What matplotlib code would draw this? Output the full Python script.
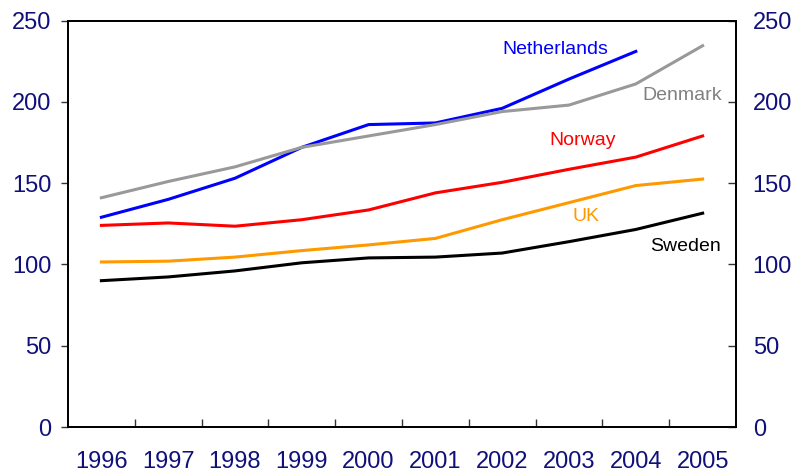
import matplotlib
matplotlib.use("Agg")
import matplotlib.pyplot as plt
import numpy as np

plt.rcParams['font.family'] = ['Liberation Sans', 'DejaVu Sans']

years = ['1996', '1997', '1998', '1999', '2000', '2001', '2002', '2003', '2004', '2005']
netherlands = [129, 140, 153, 172, 186, 187, 196, 214, 231]
denmark = [141, 151, 160, 172, 179, 186, 194, 198, 211, 234.5]
norway = [124, 125.5, 123.5, 127.5, 133.5, 144, 150.5, 158.5, 166, 179]
uk = [101.5, 102, 104.5, 108.5, 112, 116, 127.5, 138, 148.5, 152.5]
sweden = [90, 92.3, 96, 101, 104, 104.5, 107, 114, 121.5, 131.5]

navy = '#10107a'

fig = plt.figure(figsize=(7.97, 4.76), dpi=100)
ax = fig.add_axes([0.0853, 0.1029, 0.8382, 0.8540])

x = np.arange(len(years))
lw = 2.2
ax.plot(x[:len(netherlands)], netherlands, color='#0000ff', lw=lw)
ax.plot(x, denmark, color='#999999', lw=lw)
ax.plot(x, norway, color='#ff0000', lw=lw)
ax.plot(x, uk, color='#ff9900', lw=lw)
ax.plot(x, sweden, color='black', lw=lw)

# series labels
fs = 14
ax.text(6.8, 232, 'Netherlands', color='#0000ff', fontsize=fs, ha='center', va='center')
ax.text(8.7, 204, 'Denmark', color='#808080', fontsize=fs, ha='center', va='center')
ax.text(7.2, 176.5, 'Norway', color='#ff0000', fontsize=fs, ha='center', va='center')
ax.text(7.25, 129.5, 'UK', color='#ff9900', fontsize=fs, ha='center', va='center')
ax.text(8.75, 111, 'Sweden', color='black', fontsize=fs, ha='center', va='center')

ax.set_xlim(-0.5, 9.5)
ax.set_ylim(0, 250)

# x ticks at category boundaries, labels at centres
ax.set_xticks(np.arange(0.5, 9, 1))
ax.set_xticklabels([])
ax.set_xticks(x, minor=True)
ax.set_xticklabels(years, minor=True)
ax.tick_params(axis='x', which='major', direction='in', length=6, width=1, color='#333333')
ax.tick_params(axis='x', which='minor', length=0, pad=17, labelsize=17, labelcolor=navy)

yt = [0, 50, 100, 150, 200, 250]
ax.set_yticks(yt)
ax.tick_params(axis='y', direction='out', length=5, width=1, pad=7, labelsize=17,
               labelcolor=navy, color='#333333')

ax2 = ax.twinx()
ax2.set_ylim(0, 250)
ax2.set_yticks(yt)
ax2.tick_params(axis='y', direction='in', length=6, width=1, pad=12, labelsize=17,
                labelcolor=navy, color='#333333')

for a in (ax, ax2):
    for s in a.spines.values():
        s.set_linewidth(1.3)
        s.set_color('black')

plt.savefig('out.png', dpi=100)
